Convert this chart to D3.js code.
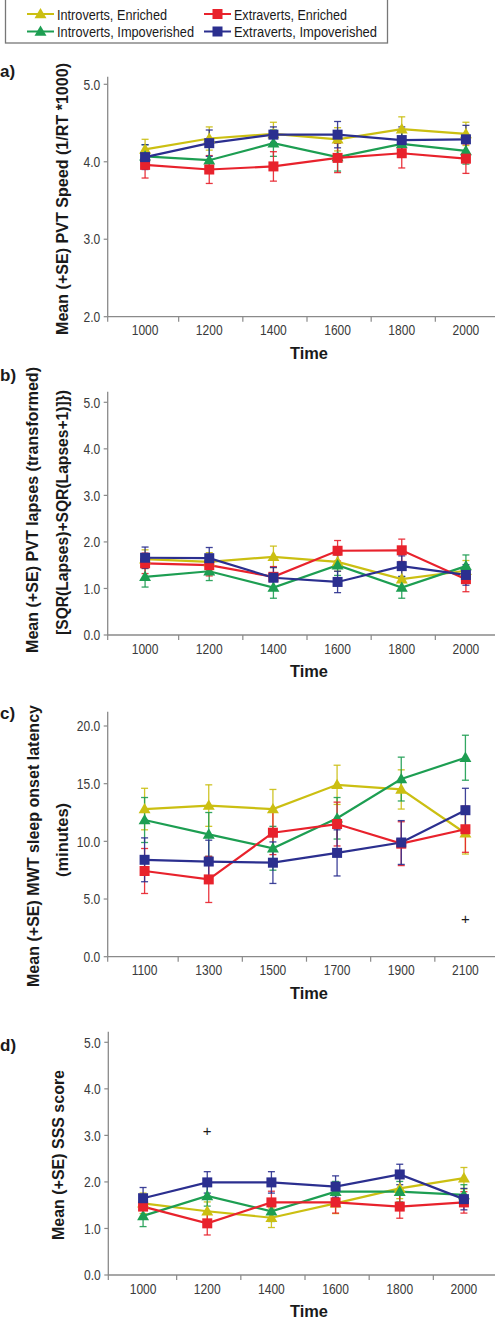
<!DOCTYPE html>
<html><head><meta charset="utf-8">
<script src="https://cdn.jsdelivr.net/npm/d3@7"></script>
<style>
html,body{margin:0;padding:0;background:#fff;}
svg{display:block;}
</style></head>
<body>
<svg id="chart" width="496" height="1321"></svg>
<script>
// ---------- DATA ----------
const categoriesAB = ["1000","1200","1400","1600","1800","2000"];
const categoriesC  = ["1100","1300","1500","1700","1900","2100"];
const seriesNames  = ["Introverts, Enriched","Introverts, Impoverished","Extraverts, Enriched","Extraverts, Impoverished"];
const seriesColors = ["#cbbf12","#1d9e52","#e8222c","#2b2f8f"];
const seriesShapes = ["triangle","triangle","square","square"];

const ticksA = [2,3,4,5];
const ticks05 = [0,1,2,3,4,5];
const ticksC = [0,5,10,15,20];

// a) PVT speed
const speedIntEnr = [4.16,4.30,4.36,4.29,4.42,4.36];
const speedIntImp = [4.07,4.02,4.24,4.06,4.23,4.14];
const speedExtEnr = [3.96,3.90,3.94,4.05,4.11,4.04];
const speedExtImp = [4.06,4.24,4.35,4.35,4.28,4.29];
const speedIntEnrSE = [0.13,0.15,0.15,0.15,0.16,0.15];
const speedIntImpSE = [0.15,0.17,0.17,0.18,0.17,0.17];
const speedExtEnrSE = [0.17,0.18,0.19,0.19,0.19,0.19];
const speedExtImpSE = [0.16,0.17,0.10,0.17,0.17,0.18];

// b) PVT lapses
const lapsesIntEnr = [1.63,1.57,1.68,1.57,1.20,1.38];
const lapsesIntImp = [1.25,1.37,1.02,1.50,1.02,1.48];
const lapsesExtEnr = [1.54,1.50,1.25,1.81,1.82,1.20];
const lapsesExtImp = [1.66,1.65,1.23,1.14,1.48,1.29];
const lapsesIntEnrSE = [0.20,0.20,0.23,0.20,0.20,0.22];
const lapsesIntImpSE = [0.22,0.20,0.23,0.22,0.23,0.24];
const lapsesExtEnrSE = [0.22,0.23,0.22,0.22,0.24,0.27];
const lapsesExtImpSE = [0.23,0.23,0.22,0.23,0.22,0.22];

// c) MWT sleep onset latency
const mwtIntEnr = [12.8,13.1,12.8,14.9,14.5,10.7];
const mwtIntImp = [11.85,10.6,9.4,12.0,15.4,17.25];
const mwtExtEnr = [7.43,6.7,10.75,11.5,9.8,11.05];
const mwtExtImp = [8.4,8.25,8.15,9.0,9.9,12.7];
const mwtIntEnrSE = [1.8,1.8,1.7,1.7,1.7,1.8];
const mwtIntImpSE = [1.95,1.9,1.9,1.8,1.9,1.95];
const mwtExtEnrSE = [1.95,2.0,1.9,1.9,1.9,2.0];
const mwtExtImpSE = [1.9,1.85,1.8,2.0,1.9,1.9];

// d) SSS score
const sssIntEnr = [1.54,1.37,1.23,1.54,1.86,2.08];
const sssIntImp = [1.27,1.70,1.37,1.79,1.79,1.72];
const sssExtEnr = [1.47,1.11,1.56,1.56,1.47,1.56];
const sssExtImp = [1.65,1.99,1.99,1.90,2.16,1.63];
const sssIntEnrSE = [0.22,0.20,0.21,0.22,0.22,0.23];
const sssIntImpSE = [0.23,0.22,0.22,0.22,0.22,0.22];
const sssExtEnrSE = [0.24,0.25,0.24,0.23,0.25,0.23];
const sssExtImpSE = [0.23,0.23,0.23,0.23,0.22,0.23];

// significance markers
const plusC = [{cat:"2100", value:3.3}];
const plusD = [{cat:"1200", value:3.1}];

// ---------- LAYOUT ----------
const panels = [
  {label:"a)", labelY:77, cats:categoriesAB, domain:[2,5], ticks:ticksA,
   yBottom:316.7, yTop:84.3, axisTop:76.7, axisX:107.7, xRange:[113,498], axisRight:495,
   values:[speedIntEnr,speedIntImp,speedExtEnr,speedExtImp],
   se:[speedIntEnrSE,speedIntImpSE,speedExtEnrSE,speedExtImpSE],
   titles:[{t:"Mean (+SE) PVT Speed (1/RT *1000)", x:61.7, y:199, w:272}], plus:[]},
  {label:"b)", labelY:381, cats:categoriesAB, domain:[0,5], ticks:ticks05,
   yBottom:635, yTop:402.3, axisTop:391.7, axisX:107.7, xRange:[113,498], axisRight:495,
   values:[lapsesIntEnr,lapsesIntImp,lapsesExtEnr,lapsesExtImp],
   se:[lapsesIntEnrSE,lapsesIntImpSE,lapsesExtEnrSE,lapsesExtImpSE],
   titles:[{t:"Mean (+SE) PVT lapses (transformed)", x:31.7, y:510, w:286},
           {t:"[SQR(Lapses)+SQR(Lapses+1)]})", x:61.7, y:512.5, w:245}], plus:[]},
  {label:"c)", labelY:719, cats:categoriesC, domain:[0,20], ticks:ticksC,
   yBottom:956.7, yTop:726, axisTop:711.7, axisX:107.7, xRange:[112.5,497.5], axisRight:495,
   values:[mwtIntEnr,mwtIntImp,mwtExtEnr,mwtExtImp],
   se:[mwtIntEnrSE,mwtIntImpSE,mwtExtEnrSE,mwtExtImpSE],
   titles:[{t:"Mean (+SE) MWT sleep onset latency", x:33, y:846, w:282},
           {t:"(minutes)", x:62, y:840, w:74}], plus:plusC},
  {label:"d)", labelY:1051, cats:categoriesAB, domain:[0,5], ticks:ticks05,
   yBottom:1275, yTop:1042.3, axisTop:1031.7, axisX:108.3, xRange:[111,496], axisRight:495,
   values:[sssIntEnr,sssIntImp,sssExtEnr,sssExtImp],
   se:[sssIntEnrSE,sssIntImpSE,sssExtEnrSE,sssExtImpSE],
   titles:[{t:"Mean (+SE) SSS score", x:58, y:1155, w:170}], plus:plusD}
];

const svg = d3.select("#chart");
const axisColor = "#8a8a8a";
const tickTextColor = "#3a3a3a";
const FONT = '"Liberation Sans",Arial,sans-serif';
const NARROW = 0.83;

// emulate a narrow face by compressing glyphs horizontally
function narrow(sel, factor, target){
  const n = sel.node();
  const len = n.getComputedTextLength();
  const w = target != null ? target : len*factor;
  sel.attr("textLength", w).attr("lengthAdjust","spacingAndGlyphs");
  return sel;
}

const triangle = d3.symbol().type(d3.symbolTriangle).size(62);
function drawMarker(g, shape, color, x, y){
  if(shape==="square"){
    g.append("rect").attr("x",x-5).attr("y",y-5).attr("width",10).attr("height",10)
      .attr("fill",color);
  } else {
    g.append("path").attr("d",triangle()).attr("transform",`translate(${x},${y+0.8})`)
      .attr("fill",color);
  }
}

panels.forEach(p=>{
  const g = svg.append("g");
  const x = d3.scalePoint().domain(p.cats).range([p.xRange[0],p.xRange[1]]).padding(0.5);
  const step = x.step();
  const y = d3.scaleLinear().domain(p.domain).range([p.yBottom,p.yTop]);

  // axes lines
  g.append("line").attr("x1",p.axisX).attr("x2",p.axisX).attr("y1",p.axisTop).attr("y2",p.yBottom)
    .attr("stroke",axisColor).attr("stroke-width",1.3);
  g.append("line").attr("x1",p.axisX).attr("x2",p.axisRight).attr("y1",p.yBottom).attr("y2",p.yBottom)
    .attr("stroke",axisColor).attr("stroke-width",1.3);

  // y ticks
  p.ticks.forEach(t=>{
    g.append("line").attr("x1",p.axisX-4).attr("x2",p.axisX).attr("y1",y(t)).attr("y2",y(t))
      .attr("stroke",axisColor).attr("stroke-width",1.2);
    const tx = g.append("text").attr("x",p.axisX-7.5).attr("y",y(t)).attr("dy","0.36em")
      .attr("text-anchor","end").attr("font-family",FONT).attr("font-size",14.5)
      .attr("fill",tickTextColor).text(d3.format(".1f")(t));
    narrow(tx, NARROW);
  });
  // x tick marks at category boundaries
  g.append("line").attr("x1",p.axisX).attr("x2",p.axisX).attr("y1",p.yBottom).attr("y2",p.yBottom+5)
    .attr("stroke",axisColor).attr("stroke-width",1.2);
  p.cats.slice(0,-1).forEach(c=>{
    const bx = x(c)+step/2+1.5;
    g.append("line").attr("x1",bx).attr("x2",bx).attr("y1",p.yBottom).attr("y2",p.yBottom+5)
      .attr("stroke",axisColor).attr("stroke-width",1.2);
  });
  p.cats.forEach(c=>{
    const tx = g.append("text").attr("x",x(c)).attr("y",p.yBottom+18.5)
      .attr("text-anchor","middle").attr("font-family",FONT).attr("font-size",14.5)
      .attr("fill",tickTextColor).text(c);
    narrow(tx, NARROW);
  });
  // x title
  const tt = g.append("text").attr("x",309).attr("y",p.yBottom+42).attr("text-anchor","middle")
    .attr("font-family",FONT).attr("font-weight","bold").attr("font-size",17)
    .attr("fill","#1a1a1a").text("Time");
  narrow(tt, NARROW, 38);
  // panel label
  g.append("text").attr("x",0).attr("y",p.labelY).attr("font-family",FONT)
    .attr("font-weight","bold").attr("font-size",17).attr("fill","#1a1a1a").text(p.label);
  // y titles
  p.titles.forEach(t=>{
    const yt = g.append("text").attr("transform",`translate(${t.x},${t.y}) rotate(-90)`)
      .attr("text-anchor","middle").attr("dy","0.36em")
      .attr("font-family",FONT).attr("font-weight","bold").attr("font-size",17)
      .attr("fill","#1a1a1a").text(t.t);
    narrow(yt, NARROW, t.w);
  });

  const order = [0,1,2,3];
  // error bars
  order.forEach(si=>{
    const col = seriesColors[si];
    p.values[si].forEach((v,i)=>{
      const cx = x(p.cats[i]);
      const se = p.se[si][i];
      const y1 = y(v+se), y2 = y(v-se);
      g.append("line").attr("x1",cx).attr("x2",cx).attr("y1",y1).attr("y2",y2)
        .attr("stroke",col).attr("stroke-width",1.3).attr("opacity",0.9);
      [y1,y2].forEach(yy=>{
        g.append("line").attr("x1",cx-3.5).attr("x2",cx+3.5).attr("y1",yy).attr("y2",yy)
          .attr("stroke",col).attr("stroke-width",1.3).attr("opacity",0.9);
      });
    });
  });
  // lines
  const line = d3.line().x((d,i)=>x(p.cats[i])).y(d=>y(d));
  order.forEach(si=>{
    g.append("path").attr("d",line(p.values[si])).attr("fill","none")
      .attr("stroke",seriesColors[si]).attr("stroke-width",2.2);
  });
  // markers
  order.forEach(si=>{
    p.values[si].forEach((v,i)=>{
      drawMarker(g, seriesShapes[si], seriesColors[si], x(p.cats[i]), y(v));
    });
  });
  // plus markers
  p.plus.forEach(pl=>{
    g.append("text").attr("x",x(pl.cat)).attr("y",y(pl.value)).attr("dy","0.35em")
      .attr("text-anchor","middle").attr("font-family",FONT)
      .attr("font-size",15).attr("fill","#1a1a1a").text("+");
  });
});

// ---------- LEGEND ----------
const lg = svg.append("g");
lg.append("rect").attr("x",5.5).attr("y",-2).attr("width",382).attr("height",45)
  .attr("fill","#fff").attr("stroke","#777").attr("stroke-width",1.3);
const legendPos = [
  {si:0, x:27, y:14, w:110}, {si:2, x:204, y:14, w:113},
  {si:1, x:27, y:31.5, w:137}, {si:3, x:204, y:31.5, w:143}
];
legendPos.forEach(lp=>{
  const col = seriesColors[lp.si];
  lg.append("line").attr("x1",lp.x).attr("x2",lp.x+27).attr("y1",lp.y).attr("y2",lp.y)
    .attr("stroke",col).attr("stroke-width",2);
  drawMarker(lg, seriesShapes[lp.si], col, lp.x+13.5, lp.y);
  const t = lg.append("text").attr("x",lp.x+30).attr("y",lp.y).attr("dy","0.36em")
    .attr("font-family",FONT).attr("font-size",15.5).attr("fill","#1a1a1a")
    .text(seriesNames[lp.si]);
  narrow(t, NARROW, lp.w);
});
</script>
</body></html>
